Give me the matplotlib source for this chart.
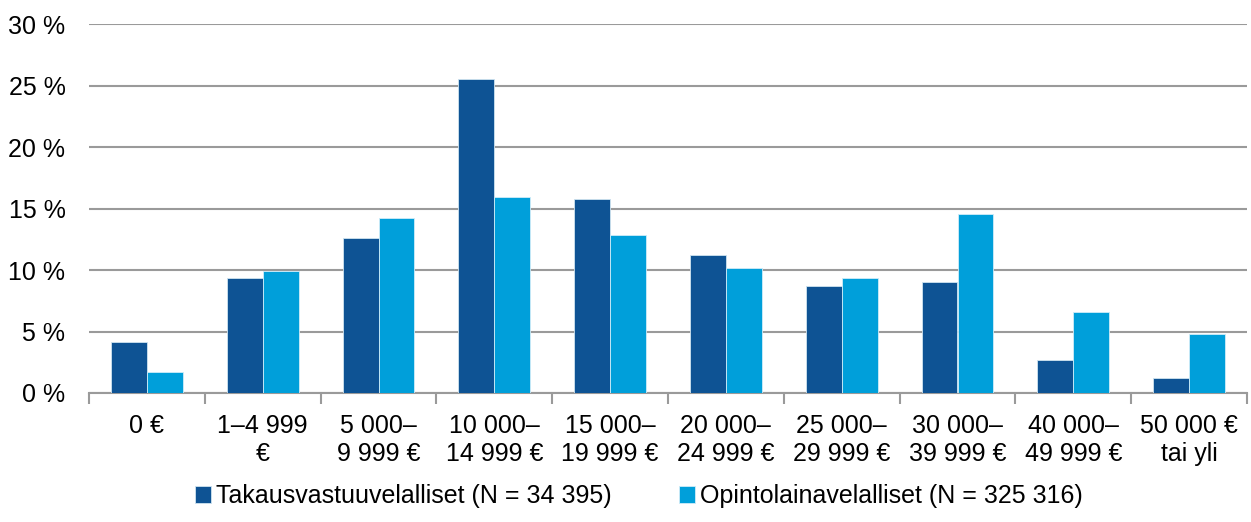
import numpy as np
import matplotlib.pyplot as plt

# --- data ---
categories = ["0 €", "1–4 999\n€", "5 000–\n9 999 €", "10 000–\n14 999 €", "15 000–\n19 999 €",
              "20 000–\n24 999 €", "25 000–\n29 999 €", "30 000–\n39 999 €", "40 000–\n49 999 €",
              "50 000 €\ntai yli"]
takaus = [4.15, 9.35, 12.6, 25.5, 15.8, 11.2, 8.7, 9.0, 2.7, 1.2]
opinto = [1.7, 9.9, 14.2, 15.9, 12.85, 10.15, 9.35, 14.55, 6.6, 4.8]
series_names = ["Takausvastuuvelalliset (N = 34 395)", "Opintolainavelalliset (N = 325 316)"]
yticks = [0, 5, 10, 15, 20, 25, 30]

plt.rcParams['font.family'] = ['Liberation Sans', 'DejaVu Sans']
FS = 18

fig = plt.figure(figsize=(12.51, 5.22), dpi=100)
ax = fig.add_axes([89 / 1251, 1 - 393 / 522, 1158 / 1251, 369 / 522])

x = np.arange(len(categories))
w = 0.31
ax.bar(x - w / 2, takaus, w, color="#0E5394", edgecolor="#d0e4f0", linewidth=0.6,
       label=series_names[0], zorder=3)
ax.bar(x + w / 2, opinto, w, color="#009FDA", edgecolor="#d0ecf8", linewidth=0.6,
       label=series_names[1], zorder=3)

ax.set_xlim(-0.5, len(categories) - 0.5)
ax.set_ylim(0, 30)
ax.set_yticks(yticks)
ax.set_yticklabels([f"{v} %" for v in yticks], fontsize=FS)
ax.yaxis.grid(True, color="#9a9a9a", linewidth=1.5, zorder=0)
ax.tick_params(axis='y', length=0, pad=17)

# category labels between boundary ticks
ax.set_xticks(np.arange(len(categories) + 1) - 0.5)
ax.set_xticklabels([])
ax.tick_params(axis='x', length=8, width=1.5, color="#9a9a9a")
ax.set_xticks(x, minor=True)
ax.set_xticklabels(categories, minor=True, fontsize=FS, linespacing=1.2)
ax.tick_params(axis='x', which='minor', length=0, pad=15)

for s in ['top', 'right', 'left']:
    ax.spines[s].set_visible(False)
ax.spines['bottom'].set_color("#9a9a9a")
ax.spines['bottom'].set_linewidth(1.5)

fig.legend(loc='center', bbox_to_anchor=(639 / 1251, 1 - 496 / 522), ncol=2, frameon=False,
           fontsize=FS, handlelength=0.65, handleheight=0.65, handletextpad=0.2,
           columnspacing=2.7)

fig.savefig("out.png", dpi=100)
